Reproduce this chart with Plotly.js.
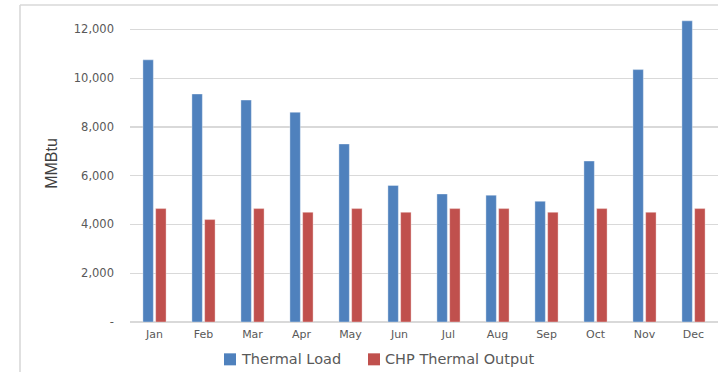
<!DOCTYPE html>
<html>
<head>
<meta charset="utf-8">
<script src="https://cdn.plot.ly/plotly-3.0.1.min.js"></script>
<style>
  html, body { margin: 0; padding: 0; background: #ffffff; }
  #chart { width: 718px; height: 372px; }
</style>
</head>
<body>
<div id="chart"></div>
<script>
// Monthly thermal balance (MMBtu)
const months = ['Jan', 'Feb', 'Mar', 'Apr', 'May', 'Jun', 'Jul', 'Aug', 'Sep', 'Oct', 'Nov', 'Dec'];
const thermalLoad = [10750, 9350, 9100, 8600, 7300, 5600, 5250, 5200, 4950, 6600, 10350, 12350];
const chpOutput = [4650, 4200, 4650, 4500, 4650, 4500, 4650, 4650, 4500, 4650, 4500, 4650];
const seriesNames = ['Thermal Load', 'CHP Thermal Output'];
const seriesColors = ['#4F81BD', '#C0504D'];
const yTickVals = [0, 2000, 4000, 6000, 8000, 10000, 12000];
const yTickText = ['-', '2,000', '4,000', '6,000', '8,000', '10,000', '12,000'];
const yTitle = 'MMBtu';

// plot area geometry (px) used to place the frame and legend in paper units
const W = 718, H = 372;
const M = { l: 130, r: 0, t: 5, b: 50.3 };
const plotW = W - M.l - M.r;
const plotH = H - M.t - M.b;
const px2x = px => (px - M.l) / plotW;
const px2y = py => (H - M.b - py) / plotH;

const traces = [thermalLoad, chpOutput].map((vals, i) => ({
  type: 'bar',
  x: months,
  y: vals,
  name: seriesNames[i],
  marker: { color: seriesColors[i], line: { width: 0.8, color: 'rgba(255,255,255,0.45)' } },
  hoverinfo: 'x+y+name'
}));

const tickFont = { family: 'DejaVu Sans, sans-serif', size: 11, color: '#595959' };

// legend drawn as coloured squares with labels below the plot
const legendItems = [
  { sq: 224, txt: 239 },
  { sq: 368, txt: 383 }
];
const legendCy = 359, sqSize = 12;

const shapes = [
  // chart frame (top and left edges)
  { type: 'line', xref: 'paper', yref: 'paper', x0: px2x(20), x1: px2x(W + 5), y0: px2y(5), y1: px2y(5),
    line: { color: '#d9d9d9', width: 1.6 } },
  { type: 'line', xref: 'paper', yref: 'paper', x0: px2x(20), x1: px2x(20), y0: px2y(5), y1: px2y(H + 5),
    line: { color: '#d9d9d9', width: 1.6 } }
];
const annotations = [];
legendItems.forEach((it, i) => {
  shapes.push({
    type: 'rect', xref: 'paper', yref: 'paper',
    x0: px2x(it.sq), x1: px2x(it.sq + sqSize),
    y0: px2y(legendCy - sqSize / 2), y1: px2y(legendCy + sqSize / 2),
    fillcolor: seriesColors[i], line: { width: 0 }
  });
  annotations.push({
    xref: 'paper', yref: 'paper', x: px2x(it.txt), y: px2y(legendCy),
    xanchor: 'left', yanchor: 'middle', showarrow: false,
    text: seriesNames[i],
    font: { family: 'DejaVu Sans, sans-serif', size: 14.5, color: '#595959' }
  });
});

const layout = {
  width: W,
  height: H,
  margin: M,
  paper_bgcolor: '#ffffff',
  plot_bgcolor: '#ffffff',
  showlegend: false,
  barmode: 'group',
  bargap: 0.48,
  bargroupgap: 0.18,
  font: tickFont,
  xaxis: {
    type: 'category',
    tickfont: tickFont,
    showgrid: false,
    showline: false,
    zeroline: false,
    ticks: '',
    ticklabelstandoff: 4
  },
  yaxis: {
    range: [0, 13000],
    tickvals: yTickVals,
    ticktext: yTickText,
    tickfont: { family: 'DejaVu Sans, sans-serif', size: 11.5, color: '#595959' },
    showgrid: true,
    gridcolor: '#d9d9d9',
    gridwidth: 1.3,
    zeroline: true,
    zerolinecolor: '#d9d9d9',
    zerolinewidth: 1.6,
    showline: false,
    ticks: '',
    ticklabelstandoff: 15,
    automargin: false,
    title: {
      text: yTitle,
      standoff: 12,
      font: { family: 'Liberation Sans Narrow, Liberation Sans, sans-serif', size: 16, color: '#404040' }
    }
  },
  shapes: shapes,
  annotations: annotations
};

Plotly.newPlot('chart', traces, layout, { displayModeBar: false, staticPlot: true });
</script>
</body>
</html>
